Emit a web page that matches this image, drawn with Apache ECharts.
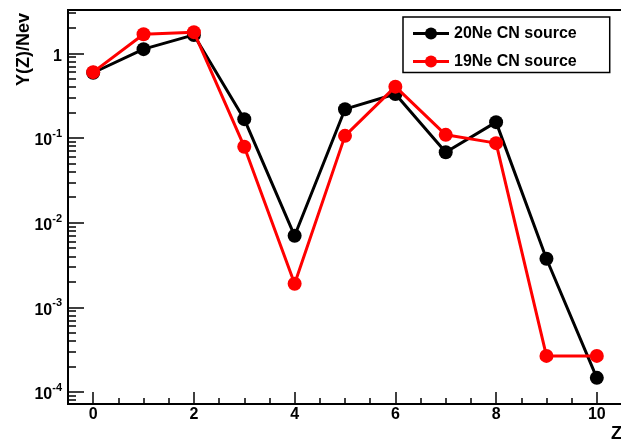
<!DOCTYPE html>
<html>
<head>
<meta charset="utf-8">
<style>
  html, body { margin: 0; padding: 0; background: #fff; }
  #chart { width: 621px; height: 443px; }
</style>
<script src="https://cdn.jsdelivr.net/npm/echarts@6/dist/echarts.min.js"></script>
</head>
<body>
<div id="chart"></div>
<script>
// ---- data ----
const zValues = [0, 1, 2, 3, 4, 5, 6, 7, 8, 9, 10];
const ne20Yield = [0.59, 1.12, 1.65, 0.167, 0.0070, 0.219, 0.331, 0.068, 0.154, 0.00375, 0.000147];
const ne19Yield = [0.60, 1.68, 1.78, 0.079, 0.0019, 0.106, 0.404, 0.109, 0.087, 0.000267, 0.000267];
const seriesNames = ['20Ne CN source', '19Ne CN source'];

// ---- axes / ticks ----
const xRange = [-0.5, 10.5];
const xTickLabels = [0, 2, 4, 6, 8, 10];
const xMinorTicks = [0.5, 1, 1.5, 2.5, 3, 3.5, 4.5, 5, 5.5, 6.5, 7, 7.5, 8.5, 9, 9.5];
const yRange = [7.22e-5, 3.25];
const yDecadeLabels = [1e-4, 1e-3, 1e-2, 1e-1, 1];
const yMinorMultipliers = [2, 3, 4, 5, 6, 7, 8, 9];
const yMinorDecades = [1e-5, 1e-4, 1e-3, 1e-2, 1e-1, 1];

const lg = Math.log10;
const yMinL = lg(yRange[0]), yMaxL = lg(yRange[1]);
const yMajorL = yDecadeLabels.map(v => Math.round(lg(v)));
const yMinorL = [];
yMinorDecades.forEach(d => yMinorMultipliers.forEach(m => {
  const v = lg(m * d);
  if (v > yMinL && v < yMaxL) yMinorL.push(v);
}));

const FONT = '"Liberation Sans", Arial, Helvetica, sans-serif';

const chart = echarts.init(document.getElementById('chart'), null, { renderer: 'canvas' });

function toPoints(vals) {
  return zValues.map((z, i) => [z, lg(vals[i])]);
}

const option = {
  animation: false,
  backgroundColor: '#ffffff',
  grid: {
    left: 68, top: 10, right: -1, bottom: 39,
    containLabel: false,
    outerBoundsMode: 'none',
    show: true,
    borderColor: '#000', borderWidth: 2,
    backgroundColor: 'transparent'
  },
  legend: {
    orient: 'vertical',
    left: 403, top: 17,
    padding: [8.5, 33, 3, 8.5],
    itemWidth: 36, itemHeight: 15,
    itemGap: 12,
    itemTextGap: 10,
    borderColor: '#000', borderWidth: 1.5,
    backgroundColor: '#fff',
    lineStyle: { width: 3 },
    textStyle: { fontFamily: FONT, fontSize: 16, fontWeight: 'bold', color: '#000' },
    data: seriesNames
  },
  xAxis: [{
    type: 'value', min: xRange[0], max: xRange[1],
    axisLine: { show: true, onZero: false, lineStyle: { color: '#000', width: 2 } },
    axisTick: { show: true, inside: true, length: 12, customValues: xTickLabels, lineStyle: { color: '#000', width: 1.5 } },
    axisLabel: { show: true, customValues: xTickLabels, margin: 3, color: '#000', fontFamily: FONT, fontSize: 16, fontWeight: 'bold' },
    splitLine: { show: false }
  }, {
    type: 'value', min: xRange[0], max: xRange[1], position: 'bottom',
    axisLine: { show: false, onZero: false },
    axisTick: { show: true, inside: true, length: 6, customValues: xMinorTicks, lineStyle: { color: '#000', width: 1.5 } },
    axisLabel: { show: false },
    splitLine: { show: false }
  }],
  yAxis: [{
    type: 'value', min: yMinL, max: yMaxL,
    axisLine: { show: true, onZero: false, lineStyle: { color: '#000', width: 2 } },
    axisTick: { show: true, inside: true, length: 16, customValues: yMajorL, lineStyle: { color: '#000', width: 1.5 } },
    axisLabel: {
      show: true, customValues: yMajorL, margin: 6, color: '#000',
      formatter: function (v) {
        const e = Math.round(v);
        return e === 0 ? '{b|1}' : '{b|10}{s|' + e + '}';
      },
      rich: {
        b: { fontFamily: FONT, fontSize: 16, fontWeight: 'bold', color: '#000', lineHeight: 16, padding: [6, 0, 0, 0] },
        s: { fontFamily: FONT, fontSize: 11, fontWeight: 'bold', color: '#000', lineHeight: 11, padding: [0, 0, 8, 0] }
      }
    },
    splitLine: { show: false }
  }, {
    type: 'value', min: yMinL, max: yMaxL, position: 'left',
    axisLine: { show: false, onZero: false },
    axisTick: { show: true, inside: true, length: 8, customValues: yMinorL, lineStyle: { color: '#000', width: 1.5 } },
    axisLabel: { show: false },
    splitLine: { show: false }
  }],
  graphic: [{
    type: 'text', x: 24, y: 13, rotation: Math.PI / 2,
    style: { text: 'Y(Z)/Nev', fontFamily: FONT, fontSize: 18, fontWeight: 'bold', fill: '#000', align: 'right', verticalAlign: 'middle' }
  }, {
    type: 'text', x: 611, y: 434.5,
    style: { text: 'Z', fontFamily: FONT, fontSize: 18, fontWeight: 'bold', fill: '#000', align: 'left', verticalAlign: 'middle' }
  }],
  series: [{
    name: seriesNames[0], type: 'line',
    xAxisIndex: 0, yAxisIndex: 0,
    data: toPoints(ne20Yield),
    symbol: 'circle', symbolSize: 14,
    lineStyle: { color: '#000', width: 3 },
    itemStyle: { color: '#000', borderWidth: 0 },
    z: 3
  }, {
    name: seriesNames[1], type: 'line',
    xAxisIndex: 0, yAxisIndex: 0,
    data: toPoints(ne19Yield),
    symbol: 'circle', symbolSize: 14,
    lineStyle: { color: '#ff0000', width: 3 },
    itemStyle: { color: '#ff0000', borderWidth: 0 },
    z: 4
  }]
};
chart.setOption(option);
</script>
</body>
</html>
